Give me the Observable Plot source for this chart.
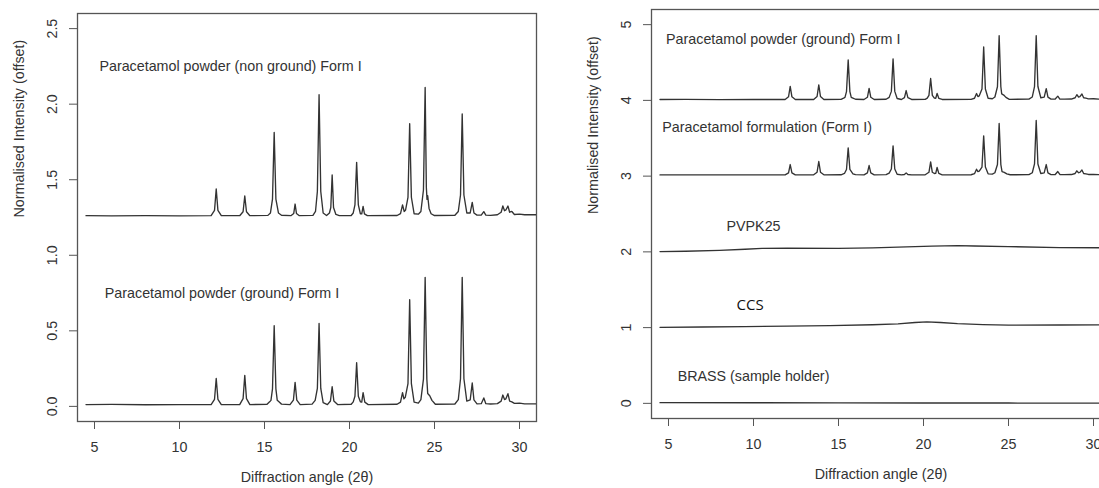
<!DOCTYPE html>
<html>
<head>
<meta charset="utf-8">
<script src="https://cdn.jsdelivr.net/npm/d3@7"></script>
<script src="https://cdn.jsdelivr.net/npm/@observablehq/plot@0.6"></script>
<style>
  html, body { margin: 0; padding: 0; background: #fff; overflow: hidden; }
  #wrap { position: relative; width: 1099px; height: 488px; overflow: hidden; background: #fff; }
  #wrap svg { position: absolute; top: 0; }
</style>
</head>
<body>
<div id="wrap"></div>
<script>
// ---------- data ----------
const xTicks = [5, 10, 15, 20, 25, 30];
const leftYTicks = [0, 0.5, 1, 1.5, 2, 2.5];
const rightYTicks = [0, 1, 2, 3, 4, 5];
const xLabel = "Diffraction angle (2θ)";
const yLabel = "Normalised Intensity (offset)";

// diffraction patterns: [angle 2θ, normalised intensity] (before offset)
const nonGroundForm1 = [
  [4.5,0.012],[6,0.011],[8,0.012],[10,0.011],[11.86,0.012],
  [12.06,0.047],[12.16,0.189],[12.26,0.047],[12.46,0.012],
  [13.54,0.012],[13.74,0.038],[13.84,0.142],[13.94,0.038],[14.14,0.012],
  [15.2,0.014],[15.35,0.03],[15.47,0.122],[15.57,0.563],[15.67,0.122],[15.82,0.03],[16.0,0.015],
  [16.55,0.012],[16.72,0.027],[16.80,0.089],[16.88,0.027],[17.05,0.012],
  [17.85,0.014],[18.0,0.04],[18.11,0.172],[18.21,0.813],[18.31,0.172],[18.45,0.03],[18.65,0.013],
  [18.82,0.03],[18.9,0.066],[18.98,0.281],[19.06,0.066],[19.2,0.02],[19.4,0.012],
  [20.1,0.013],[20.22,0.03],[20.32,0.083],[20.42,0.365],[20.52,0.083],[20.64,0.025],[20.72,0.024],[20.80,0.074],[20.88,0.024],[21.05,0.012],
  [22.8,0.013],[23.0,0.026],[23.12,0.083],[23.22,0.04],[23.3,0.05],[23.44,0.134],[23.54,0.621],[23.64,0.134],[23.8,0.025],[24.05,0.022],
  [24.2,0.04],[24.35,0.182],[24.45,0.861],[24.52,0.2],[24.56,0.12],[24.6,0.144],[24.68,0.06],[24.8,0.025],[25.0,0.013],
  [26.2,0.015],[26.4,0.04],[26.53,0.149],[26.63,0.685],[26.73,0.149],[26.9,0.03],[27.1,0.03],[27.22,0.10],[27.32,0.03],[27.5,0.016],
  [27.75,0.016],[27.9,0.039],[28.02,0.016],[28.3,0.014],[28.7,0.018],[28.92,0.035],[29.02,0.076],[29.12,0.045],[29.2,0.05],
  [29.32,0.076],[29.42,0.035],[29.55,0.04],[29.7,0.02],[30.0,0.022],[30.3,0.018],[31.5,0.018]
];

const groundForm1 = [
  [4.5,0.012],[6,0.013],[8,0.011],[10,0.012],[11.86,0.012],
  [12.06,0.047],[12.16,0.185],[12.26,0.047],[12.46,0.012],
  [13.54,0.012],[13.74,0.051],[13.84,0.205],[13.94,0.051],[14.14,0.012],
  [15.15,0.014],[15.3,0.03],[15.38,0.04],[15.47,0.116],[15.57,0.534],[15.67,0.116],[15.75,0.04],[15.85,0.03],[16.0,0.015],
  [16.5,0.012],[16.7,0.041],[16.80,0.159],[16.90,0.041],[17.1,0.012],
  [17.8,0.015],[17.98,0.04],[18.11,0.119],[18.21,0.549],[18.31,0.119],[18.45,0.025],[18.7,0.012],
  [18.88,0.036],[18.98,0.130],[19.08,0.036],[19.3,0.012],
  [20.1,0.014],[20.22,0.03],[20.32,0.067],[20.42,0.289],[20.52,0.067],[20.64,0.03],[20.72,0.028],[20.80,0.091],[20.9,0.028],[21.1,0.012],
  [22.8,0.014],[23.0,0.028],[23.12,0.091],[23.2,0.05],[23.28,0.06],[23.44,0.151],[23.54,0.706],[23.64,0.151],[23.8,0.028],[24.05,0.022],
  [24.2,0.045],[24.35,0.18],[24.45,0.854],[24.55,0.18],[24.6,0.085],[24.72,0.07],[24.85,0.04],[25.05,0.014],
  [26.2,0.016],[26.4,0.045],[26.53,0.183],[26.63,0.854],[26.73,0.183],[26.9,0.035],[27.1,0.043],[27.22,0.155],[27.32,0.043],[27.5,0.017],
  [27.75,0.018],[27.9,0.056],[28.02,0.018],[28.3,0.016],[28.7,0.018],[28.92,0.035],[29.02,0.075],[29.12,0.045],[29.2,0.05],
  [29.32,0.084],[29.42,0.035],[29.55,0.03],[29.7,0.02],[30.0,0.022],[30.3,0.017],[31.5,0.017]
];

const formulationForm1 = [
  [4.5,0.016],[6,0.017],[8,0.016],[10,0.017],[11.86,0.017],
  [12.06,0.044],[12.16,0.153],[12.26,0.044],[12.46,0.017],
  [13.54,0.017],[13.74,0.052],[13.84,0.193],[13.94,0.052],[14.14,0.017],
  [15.15,0.018],[15.35,0.035],[15.47,0.088],[15.57,0.374],[15.67,0.088],[15.85,0.03],[16.0,0.019],
  [16.5,0.017],[16.7,0.042],[16.80,0.14],[16.90,0.042],[17.1,0.017],
  [17.8,0.019],[17.98,0.04],[18.11,0.094],[18.21,0.40],[18.31,0.094],[18.45,0.025],[18.7,0.017],
  [18.88,0.022],[18.98,0.043],[19.08,0.022],[19.3,0.017],
  [20.1,0.018],[20.32,0.051],[20.42,0.189],[20.52,0.051],[20.64,0.035],[20.72,0.036],[20.80,0.114],[20.9,0.036],[21.1,0.017],
  [22.8,0.018],[23.0,0.032],[23.12,0.091],[23.2,0.06],[23.28,0.065],[23.44,0.12],[23.54,0.532],[23.64,0.12],[23.8,0.03],[24.05,0.026],
  [24.2,0.045],[24.35,0.153],[24.45,0.695],[24.55,0.153],[24.62,0.06],[24.75,0.05],[24.9,0.03],[25.1,0.018],
  [26.2,0.02],[26.4,0.045],[26.53,0.161],[26.63,0.735],[26.73,0.161],[26.9,0.035],[27.1,0.044],[27.22,0.153],[27.32,0.044],[27.5,0.02],
  [27.75,0.021],[27.9,0.061],[28.02,0.022],[28.3,0.019],[28.7,0.021],[28.92,0.035],[29.02,0.07],[29.12,0.045],[29.2,0.05],
  [29.32,0.08],[29.42,0.035],[29.55,0.03],[29.7,0.022],[30.0,0.024],[30.3,0.02],[31.5,0.02]
];

const pvpk25 = [
  [4.5,0.004],[6,0.008],[8,0.02],[9.5,0.035],[10.5,0.046],[12,0.048],[15,0.047],[17,0.052],
  [19,0.065],[20.5,0.075],[22,0.082],[23,0.078],[25,0.07],[28,0.057],[31.5,0.053]
];

const ccs = [
  [4.5,0.004],[7,0.008],[9.5,0.013],[12,0.02],[14.5,0.026],[17,0.038],[18.5,0.05],[19.5,0.068],
  [20.2,0.075],[21,0.068],[22,0.052],[23.5,0.04],[25,0.033],[28,0.034],[31.5,0.036]
];

const brass = [
  [4.5,0.009],[10,0.008],[15,0.006],[20,0.004],[25,0.004],[31.5,0.003]
];

// series names and vertical offsets
const leftSeriesNames = ["nonGround", "ground"];
const leftSeriesData = [nonGroundForm1, groundForm1];
const leftOffsets = [1.25, 0];

const rightSeriesNames = ["ground", "formulation", "PVPK25", "CCS", "BRASS"];
const rightSeriesData = [groundForm1, formulationForm1, pvpk25, ccs, brass];
const rightOffsets = [4, 3, 2, 1, 0];

// annotations (text, angle, offset intensity)
const leftLabels = [
  {text: "Paracetamol powder (non ground) Form I", x: 13, y: 2.25},
  {text: "Paracetamol powder (ground) Form I", x: 12.5, y: 0.75}
];
const rightLabels = [
  {text: "Paracetamol powder (ground) Form I", x: 11.75, y: 4.8},
  {text: "Paracetamol formulation (Form I)", x: 10.8, y: 3.64},
  {text: "PVPK25", x: 10.0, y: 2.33},
  {text: "BRASS (sample holder)", x: 10.0, y: 0.35}
];
const ccsLabel = [{text: "CCS", x: 9.8, y: 1.3}];

// ---------- drawing ----------
function rowsOf(names, data, offsets) {
  return names.flatMap((name, i) => data[i].map(([x, v]) => ({name, x, y: v + offsets[i]})));
}

const baseFont = "'Liberation Sans', Arial, Helvetica, sans-serif";
const ink = "#333";

function panel({rows, yDomain, yTicks, yFormat, labels, extra = [], width, marginLeft, marginRight, marginTop, marginBottom}) {
  return Plot.plot({
    width, height: 488,
    marginLeft, marginRight, marginTop, marginBottom,
    style: {fontFamily: baseFont, fontSize: "14.3px", color: ink, background: "transparent", overflow: "visible"},
    x: {domain: [4, 31], label: null},
    y: {domain: yDomain, label: null},
    marks: [
      Plot.frame({stroke: "#555", strokeWidth: 1.3}),
      Plot.axisX({ticks: xTicks, tickSize: 8, tickPadding: 12.5, label: null, stroke: "#555", fontSize: 14.3}),
      Plot.axisY({ticks: yTicks, tickSize: 8, tickPadding: 12.5, tickRotate: -90, tickFormat: yFormat, label: null, stroke: "#555", fontSize: 14.3}),
      Plot.line(rows, {x: "x", y: "y", z: "name", stroke: "#333", strokeWidth: 1.35, clip: true}),
      Plot.text(labels, {x: "x", y: "y", text: "text", fill: ink, fontSize: 14.3}),
      ...extra,
      Plot.text([xLabel], {frameAnchor: "bottom", dy: 60, fill: ink, fontSize: 14.3}),
      Plot.text([yLabel], {frameAnchor: "left", dx: -58, rotate: -90, fill: ink, fontSize: 14.3})
    ]
  });
}

const wrap = document.getElementById("wrap");

const left = panel({
  rows: rowsOf(leftSeriesNames, leftSeriesData, leftOffsets),
  yDomain: [-0.1, 2.6], yTicks: leftYTicks, yFormat: d3.format(".1f"),
  labels: leftLabels,
  width: 560, marginLeft: 77, marginRight: 24, marginTop: 13, marginBottom: 67
});
left.style.left = "0px";
wrap.appendChild(left);

const right = panel({
  rows: rowsOf(rightSeriesNames, rightSeriesData, rightOffsets),
  yDomain: [-0.2, 5.2], yTicks: rightYTicks, yFormat: d3.format("d"),
  labels: rightLabels,
  extra: [Plot.text(ccsLabel, {x: "x", y: "y", text: "text", fill: "#111", fontSize: 15, fontWeight: 400, fontFamily: "'Open Sans', Lato, sans-serif"})],
  width: 560, marginLeft: 91, marginRight: 10, marginTop: 9, marginBottom: 70
});
right.style.left = "560px";
wrap.appendChild(right);
</script>
</body>
</html>
